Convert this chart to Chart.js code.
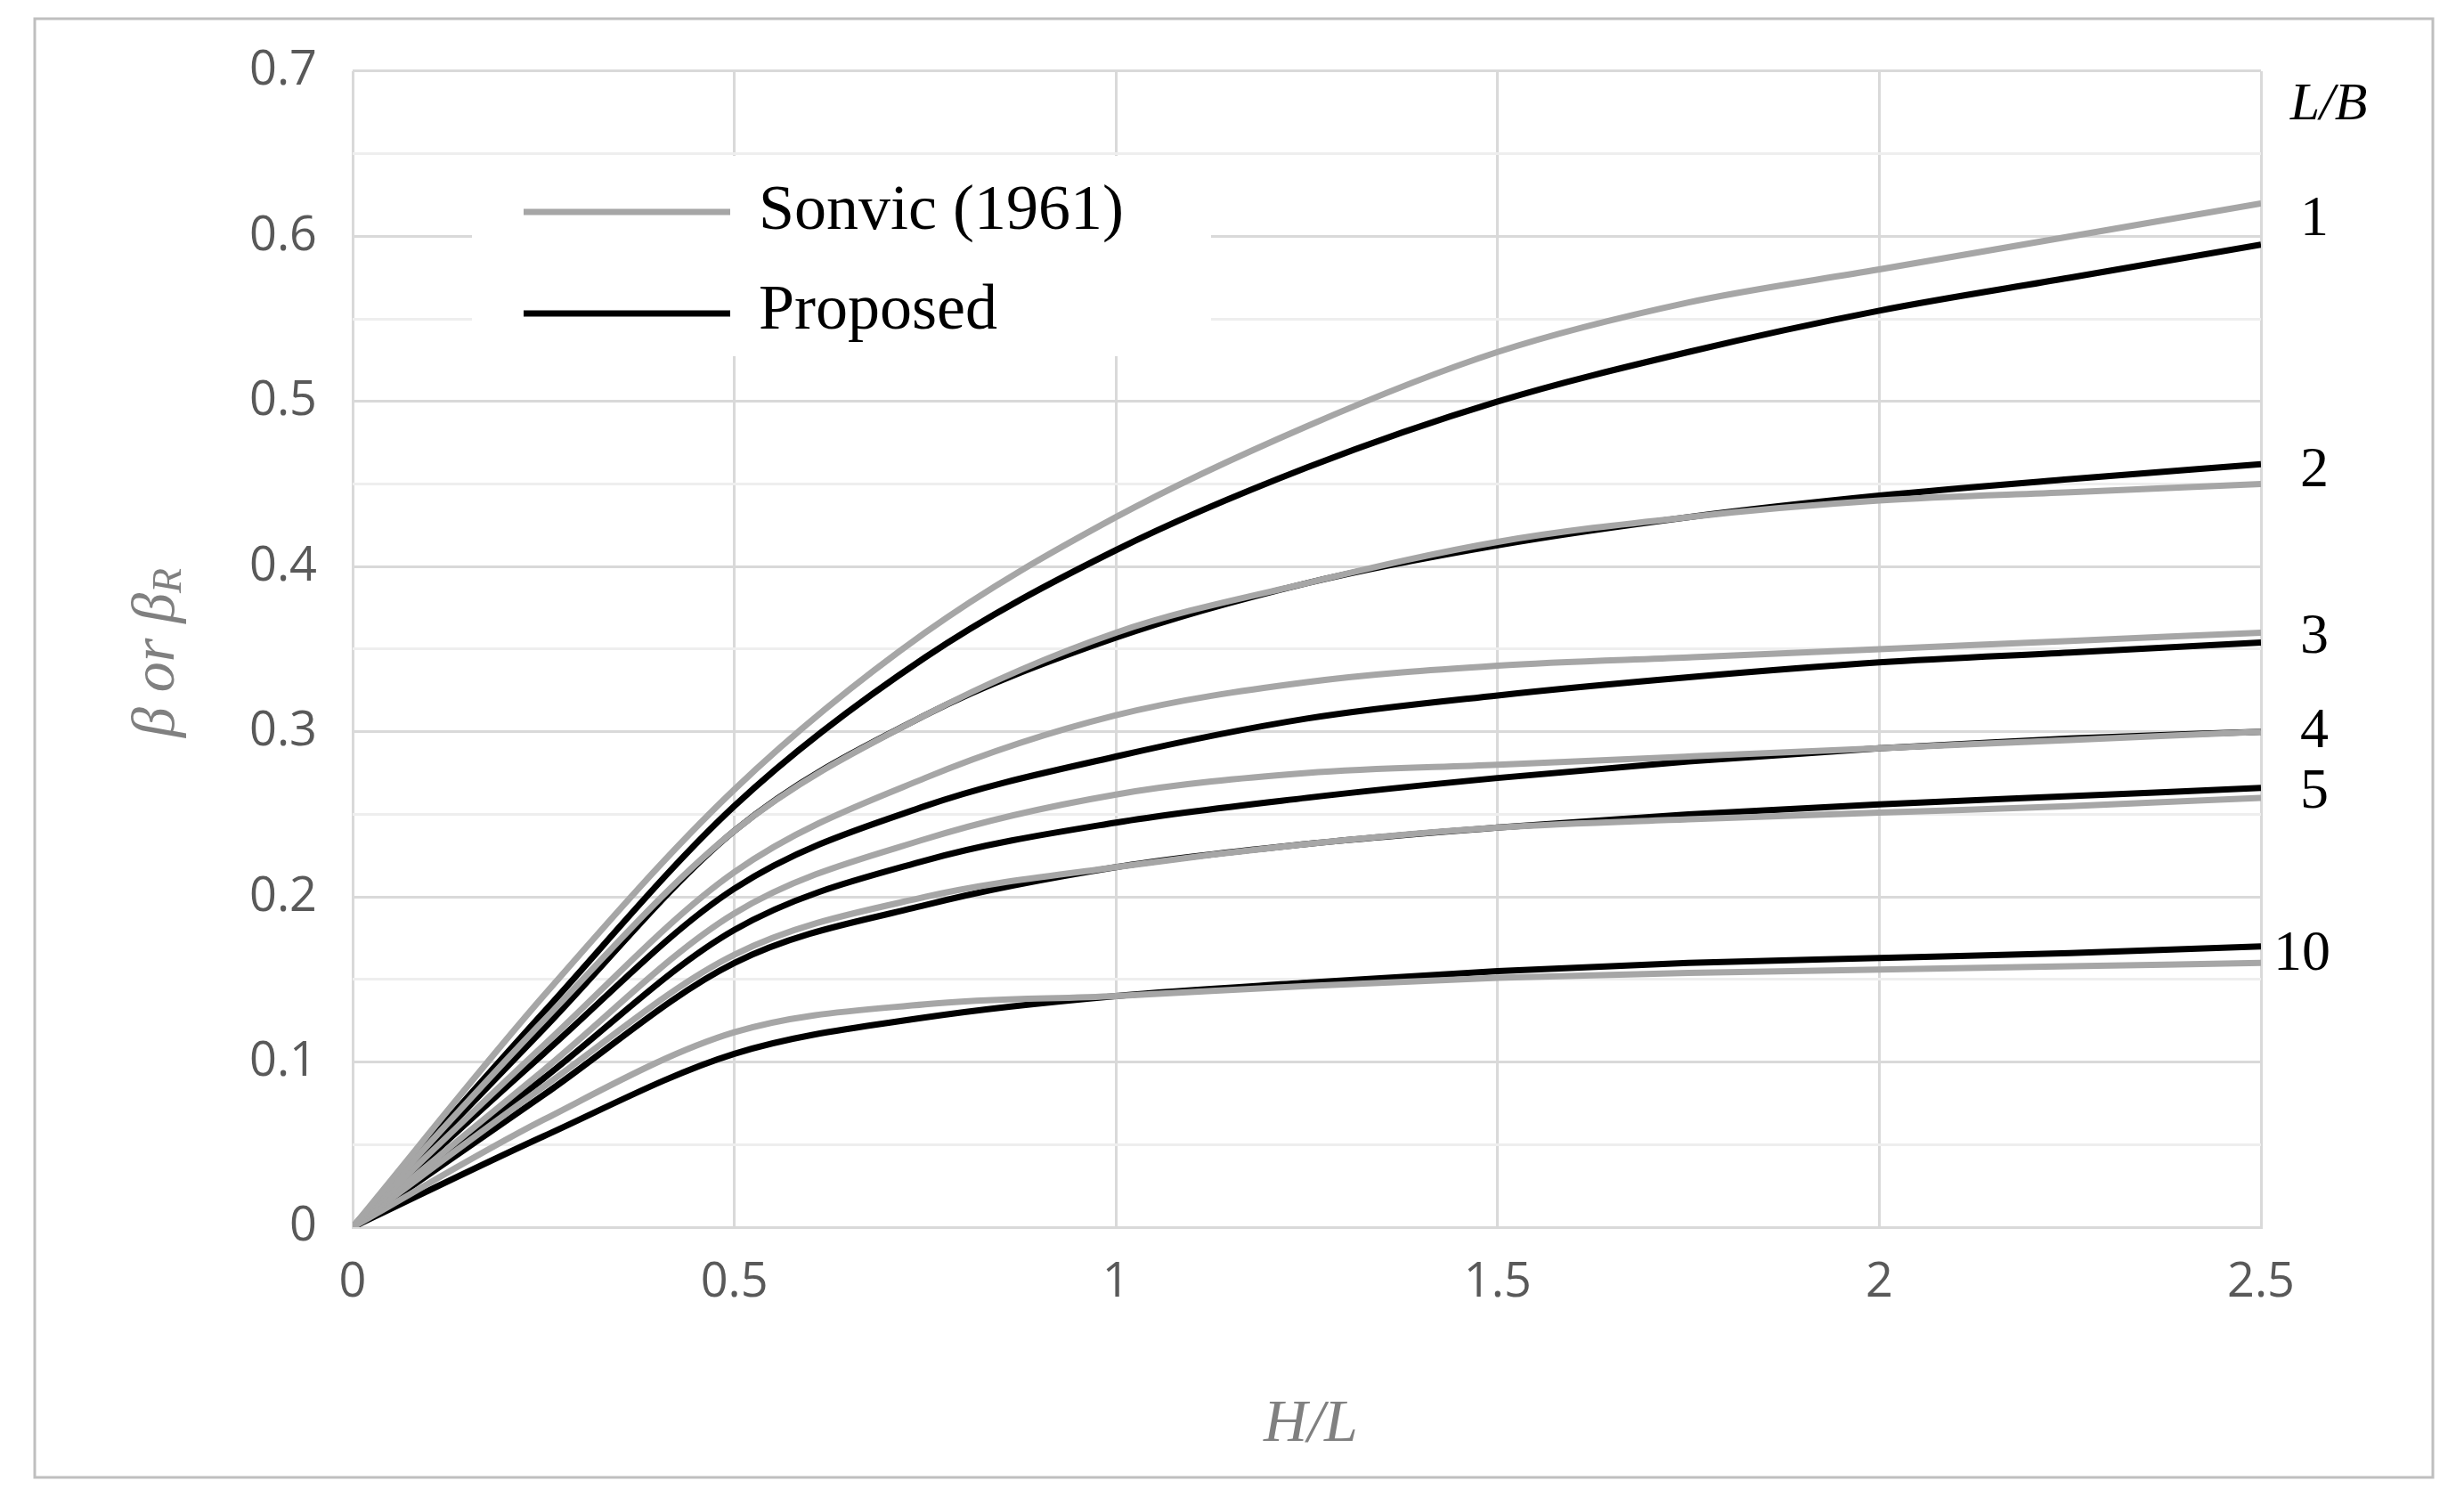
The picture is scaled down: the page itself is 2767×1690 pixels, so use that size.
<!DOCTYPE html>
<html><head><meta charset="utf-8">
<script src="https://cdn.jsdelivr.net/npm/chart.js@4"></script>
<style>html,body{margin:0;padding:0;background:#fff}#w{width:2767px;height:1690px}</style>
</head><body><div id="w"><canvas id="c"></canvas></div>
<script>
const xValues=[0,0.25,0.5,0.75,1,1.25,1.5,1.75,2,2.25,2.5];
const lbRatios=["1","2","3","4","5","10"];
const sonvic1=[0,0.14,0.265,0.36,0.43,0.485,0.53,0.56,0.58,0.6,0.62];
const sonvic2=[0,0.125,0.24,0.31,0.36,0.39,0.415,0.43,0.44,0.445,0.45];
const sonvic3=[0,0.11,0.215,0.272,0.31,0.33,0.34,0.345,0.35,0.355,0.36];
const sonvic4=[0,0.095,0.19,0.235,0.262,0.275,0.28,0.285,0.29,0.295,0.3];
const sonvic5=[0,0.085,0.165,0.2,0.218,0.232,0.242,0.247,0.251,0.255,0.26];
const sonvic10=[0,0.065,0.118,0.135,0.14,0.146,0.151,0.154,0.156,0.158,0.16];
const prop1=[0,0.13,0.255,0.345,0.41,0.46,0.5,0.53,0.555,0.575,0.595];
const prop2=[0,0.12,0.24,0.31,0.357,0.39,0.413,0.43,0.443,0.453,0.462];
const prop3=[0,0.105,0.205,0.255,0.285,0.308,0.322,0.333,0.342,0.348,0.354];
const prop4=[0,0.09,0.18,0.222,0.245,0.26,0.272,0.282,0.29,0.296,0.3];
const prop5=[0,0.08,0.16,0.195,0.218,0.232,0.242,0.25,0.256,0.261,0.266];
const prop10=[0,0.055,0.105,0.127,0.14,0.148,0.155,0.16,0.163,0.166,0.17];
const yTicks=[0,0.1,0.2,0.3,0.4,0.5,0.6,0.7];
const xTicks=[0,0.5,1,1.5,2,2.5];
const sonvic=[sonvic1,sonvic2,sonvic3,sonvic4,sonvic5,sonvic10];
const prop=[prop1,prop2,prop3,prop4,prop5,prop10];
const labelY=[0.61,0.458,0.357,0.3,0.263,0.165];
const pts=a=>a.map((v,i)=>({x:xValues[i],y:v}));
const ds=[];
sonvic.forEach(a=>ds.push({label:'Sonvic (1961)',data:pts(a),borderColor:'#a6a6a6',borderWidth:7,pointRadius:0,cubicInterpolationMode:'monotone'}));
prop.forEach(a=>ds.push({label:'Proposed',data:pts(a),borderColor:'#000',borderWidth:7,pointRadius:0,cubicInterpolationMode:'monotone'}));
const deco={id:'deco',
beforeDatasetsDraw(ch){const c=ch.ctx;c.save();c.fillStyle='#fff';c.fillRect(530,175,830,225);c.restore();},
afterDraw(ch){const c=ch.ctx,x=ch.scales.x,y=ch.scales.y;c.save();
c.strokeStyle='#bfbfbf';c.lineWidth=3;c.strokeRect(39,21,2693,1638);
c.fillStyle='#000';c.font='64px "Liberation Serif"';c.textBaseline='middle';
lbRatios.forEach((t,i)=>{c.textAlign=t==='10'?'left':'center';c.fillText(t,t==='10'?x.getPixelForValue(2.5)+14:x.getPixelForValue(2.5)+60,y.getPixelForValue(labelY[i]));});
c.font='italic 60px "Liberation Serif"';c.textAlign='center';c.fillText('L/B',2615,118);
c.lineWidth=7;c.font='72px "Liberation Serif"';c.textAlign='left';
c.strokeStyle='#a6a6a6';c.beginPath();c.moveTo(588,238);c.lineTo(820,238);c.stroke();c.fillText('Sonvic (1961)',852,238);
c.strokeStyle='#000';c.beginPath();c.moveTo(588,352);c.lineTo(820,352);c.stroke();c.fillText('Proposed',852,350);
c.fillStyle='#808080';c.font='italic 68px "Liberation Serif"';c.textAlign='center';
c.fillText('H/L',1472,1600);
c.translate(177,727);c.rotate(-Math.PI/2);c.textAlign='left';
const t='β or β';const w=c.measureText(t).width;const w2=40;c.fillText(t,-(w+w2)/2,0);
c.font='italic 46px "Liberation Serif"';c.fillText('R',-(w+w2)/2+w,14);
c.restore();}};
new Chart(document.getElementById('c'),{type:'line',data:{datasets:ds},plugins:[deco],
options:{responsive:true,maintainAspectRatio:false,animation:false,layout:{padding:{left:0,top:80,right:228,bottom:0}},
plugins:{legend:{display:false},tooltip:{enabled:false}},
scales:{
x:{type:'linear',min:0,max:2.5,afterBuildTicks:s=>{s.ticks=xTicks.map(v=>({value:v}));},
afterFit:s=>{s.height=312;},
grid:{color:'#d9d9d9',lineWidth:3,drawTicks:false},border:{color:'#d9d9d9',width:3},
ticks:{color:'#595959',font:{size:54,family:'"Open Sans"'},padding:30,callback:v=>String(v)}},
y:{min:0,max:0.7,afterBuildTicks:s=>{const t=[];for(let i=0;i<=14;i++)t.push({value:i*0.05});s.ticks=t;},
afterFit:s=>{s.width=396;},
grid:{color:c=>Math.round(c.tick.value*100)%10===0?'#d9d9d9':'#eeeeee',lineWidth:3,drawTicks:false},border:{display:false},
ticks:{color:'#595959',font:{size:54,family:'"Open Sans"'},padding:40,autoSkip:false,
callback:v=>{const r=Math.round(v*100);return r%10===0?String(yTicks[r/10]):'';}}}}}});
</script></body></html>
